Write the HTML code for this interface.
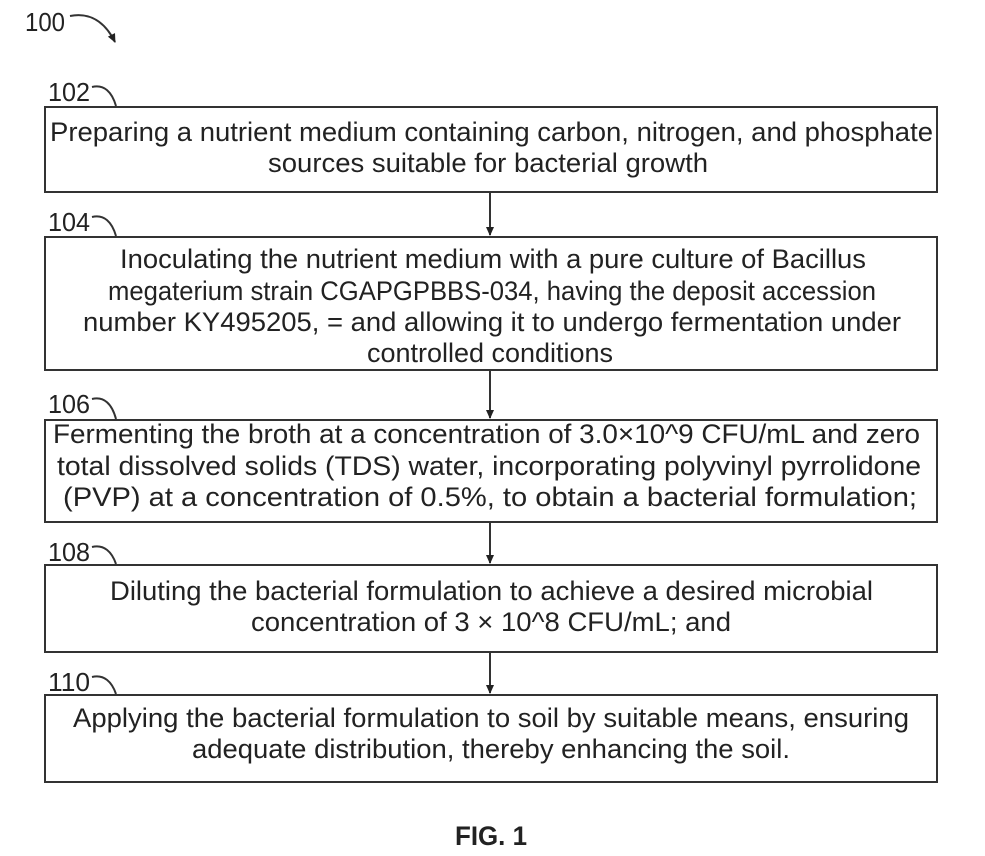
<!DOCTYPE html>
<html><head><meta charset="utf-8"><style>
html,body{margin:0;padding:0;background:#fff;}
svg{display:block;}
text{font-family:"Liberation Sans",Arial,sans-serif;fill:#222;}
</style></head><body>
<svg width="985" height="856" viewBox="0 0 985 856" xmlns="http://www.w3.org/2000/svg">
<defs><marker id="a" markerWidth="10" markerHeight="10" refX="8" refY="5" orient="auto" markerUnits="userSpaceOnUse"><path d="M0,1 L9,5 L0,9 z" fill="#222"/></marker></defs>
<g fill="none" stroke="#333" stroke-width="2">
<rect x="45" y="107" width="892" height="85"/>
<rect x="45" y="237" width="892" height="133"/>
<rect x="45" y="420" width="892" height="102"/>
<rect x="45" y="565" width="892" height="87"/>
<rect x="45" y="695" width="892" height="87"/>
<path d="M490 192 V235" marker-end="url(#a)"/>
<path d="M490 370 V418" marker-end="url(#a)"/>
<path d="M490 522 V563" marker-end="url(#a)"/>
<path d="M490 652 V693" marker-end="url(#a)"/>
<path d="M70 16 C90 12 105 22 115 42" marker-end="url(#a)"/>
<path d="M92 87 C104 84 112 92 116 106"/>
<path d="M92 217 C104 214 112 222 116 236"/>
<path d="M92 399 C104 396 112 404 116 419"/>
<path d="M92 547 C104 544 112 552 116 564"/>
<path d="M92 677 C104 674 112 682 116 694"/>
</g>
<g font-size="26">
<text x="25" y="31" textLength="40" lengthAdjust="spacingAndGlyphs">100</text>
<text x="48" y="101" textLength="42" lengthAdjust="spacingAndGlyphs">102</text>
<text x="48" y="231" textLength="42" lengthAdjust="spacingAndGlyphs">104</text>
<text x="48" y="413" textLength="42" lengthAdjust="spacingAndGlyphs">106</text>
<text x="48" y="561" textLength="42" lengthAdjust="spacingAndGlyphs">108</text>
<text x="48" y="691" textLength="42" lengthAdjust="spacingAndGlyphs">110</text>
</g>
<g font-size="27">
<text x="50" y="141" textLength="883" lengthAdjust="spacingAndGlyphs">Preparing a nutrient medium containing carbon, nitrogen, and phosphate</text>
<text x="268" y="172" textLength="440" lengthAdjust="spacingAndGlyphs">sources suitable for bacterial growth</text>
<text x="120" y="268" textLength="746" lengthAdjust="spacingAndGlyphs">Inoculating the nutrient medium with a pure culture of Bacillus</text>
<text x="108" y="300" textLength="768" lengthAdjust="spacingAndGlyphs">megaterium strain CGAPGPBBS-034, having the deposit accession</text>
<text x="83" y="331" textLength="818" lengthAdjust="spacingAndGlyphs">number KY495205, = and allowing it to undergo fermentation under</text>
<text x="367" y="362" textLength="246" lengthAdjust="spacingAndGlyphs">controlled conditions</text>
<text x="53" y="443" textLength="867" lengthAdjust="spacingAndGlyphs">Fermenting the broth at a concentration of 3.0×10^9 CFU/mL and zero</text>
<text x="57" y="475" textLength="864" lengthAdjust="spacingAndGlyphs">total dissolved solids (TDS) water, incorporating polyvinyl pyrrolidone</text>
<text x="63" y="506" textLength="854" lengthAdjust="spacingAndGlyphs">(PVP) at a concentration of 0.5%, to obtain a bacterial formulation;</text>
<text x="110" y="600" textLength="763" lengthAdjust="spacingAndGlyphs">Diluting the bacterial formulation to achieve a desired microbial</text>
<text x="251" y="631" textLength="480" lengthAdjust="spacingAndGlyphs">concentration of 3 × 10^8 CFU/mL; and</text>
<text x="73" y="727" textLength="836" lengthAdjust="spacingAndGlyphs">Applying the bacterial formulation to soil by suitable means, ensuring</text>
<text x="192" y="758" textLength="598" lengthAdjust="spacingAndGlyphs">adequate distribution, thereby enhancing the soil.</text>
</g>
<text x="455" y="845" font-size="27" font-weight="bold" textLength="72" lengthAdjust="spacingAndGlyphs">FIG. 1</text>
</svg>
</body></html>
